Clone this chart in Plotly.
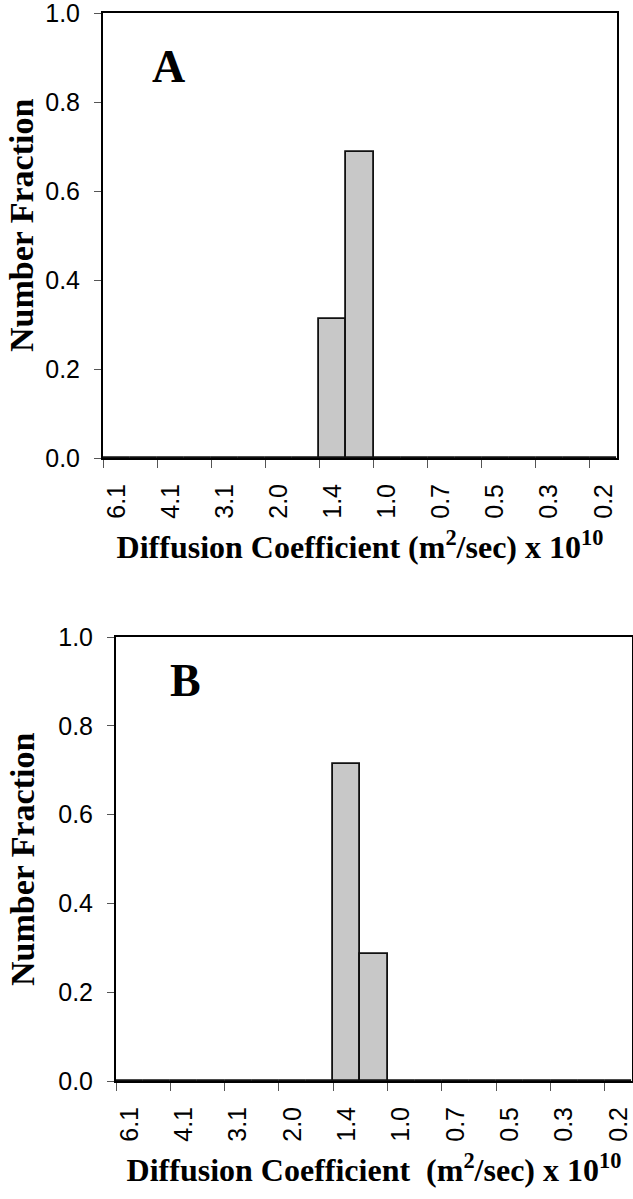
import plotly.graph_objects as go

# ------------------------------------------
# DATEN
# ------------------------------------------
# 19 Klassen, jede zweite beschriftet (Diffusionskoeffizient m^2/s x 1e10)
CLASS_LABELS = ["6.1", "", "4.1", "", "3.1", "", "2.0", "", "1.4", "",
                "1.0", "", "0.7", "", "0.5", "", "0.3", "", "0.2"]
FRACTION_A = [0, 0, 0, 0, 0, 0, 0, 0, 0.3125, 0.6875,
              0, 0, 0, 0, 0, 0, 0, 0, 0]
FRACTION_B = [0, 0, 0, 0, 0, 0, 0, 0, 0.714, 0.286,
              0, 0, 0, 0, 0, 0, 0, 0, 0]
Y_TICKS = [0.0, 0.2, 0.4, 0.6, 0.8, 1.0]

# Styling
W, H = 633, 1199
BAR_FILL = "#c8c8c8"
SANS = "Liberation Sans, Arial, sans-serif"
SERIF = "Liberation Serif, Times New Roman, serif"

# Plotbereiche in Pixeln (links, rechts, oben, unten), Buchstabe, y-Titel
PANELS = {
    "A": dict(x0=103, x1=617, y0=13, y1=458, data=FRACTION_A,
              lx=0.1265, ly=0.879, ty=226,
              xtitle="Diffusion Coefficient (m<sup>2</sup>/sec) x 10<sup>10</sup>"),
    "B": dict(x0=116, x1=632, y0=637, y1=1081, data=FRACTION_B,
              lx=0.134, ly=0.901, ty=860,
              xtitle="Diffusion Coefficient  (m<sup>2</sup>/sec) x 10<sup>10</sup>"),
}

fig = go.Figure()
n = len(CLASS_LABELS)
centers = list(range(n))
label_vals = [i for i in centers if CLASS_LABELS[i]]
label_text = [CLASS_LABELS[i] for i in label_vals]
bounds = [i - 0.5 for i in label_vals]

for k, (name, p) in enumerate(PANELS.items()):
    sfx = "" if k == 0 else str(k + 1)
    fig.add_trace(go.Bar(
        x=centers, y=p["data"], width=1.0,
        marker=dict(color=BAR_FILL, line=dict(color="#111111", width=1.8)),
        xaxis="x" + sfx, yaxis="y" + sfx, showlegend=False,
    ))
    xdom = [p["x0"] / W, p["x1"] / W]
    ydom = [1 - p["y1"] / H, 1 - p["y0"] / H]
    fig.layout["xaxis" + sfx] = dict(
        domain=xdom, anchor="y" + sfx, range=[-0.5, n - 0.5], automargin=False,
        tickmode="array", tickvals=label_vals, ticktext=label_text,
        ticks="", tickangle=-90, ticklabelstandoff=14, ticklabeloverflow="allow",
        tickfont=dict(family=SANS, size=25, color="black"),
        minor=dict(tickmode="array", tickvals=bounds, ticks="outside",
                   ticklen=8, tickcolor="#555555", tickwidth=1),
        showline=True, linecolor="black", linewidth=2, mirror=True,
        showgrid=False, zeroline=False,
        title=dict(text=p["xtitle"], standoff=18,
                   font=dict(family=SERIF, size=32, color="black", weight="bold")),
    )
    fig.layout["yaxis" + sfx] = dict(
        domain=ydom, anchor="x" + sfx, range=[0, 1.0], automargin=False,
        tickmode="array", tickvals=Y_TICKS,
        ticktext=[f"{v:.1f}" for v in Y_TICKS],
        ticks="outside", ticklen=7, tickcolor="#555555", tickwidth=1,
        ticklabelstandoff=9, ticklabeloverflow="allow",
        tickfont=dict(family=SANS, size=25, color="black"),
        showline=True, linecolor="black", linewidth=2, mirror=True,
        showgrid=False, zeroline=False,
    )
    # y-Achsentitel
    fig.add_annotation(
        text="<b>Number Fraction</b>", xref="paper", yref="paper",
        x=22 / W, y=1 - p["ty"] / H, xanchor="center", yanchor="middle",
        textangle=-90, showarrow=False,
        font=dict(family=SERIF, size=34, color="black"),
    )
    # Panelbuchstabe
    fig.add_annotation(
        text="<b>" + name + "</b>", xref="x" + sfx + " domain", yref="y" + sfx + " domain",
        x=p["lx"], y=p["ly"], xanchor="center", yanchor="middle", showarrow=False,
        font=dict(family=SERIF, size=46, color="black"),
    )

fig.update_layout(
    width=W, height=H,
    margin=dict(l=0, r=0, t=0, b=0),
    paper_bgcolor="white", plot_bgcolor="white",
    bargap=0,
)

# Seitenrand des Browsers entfernen, damit die Figur bei (0,0) beginnt
fig.write_html("out.html", config={"displayModeBar": False},
               post_script="document.body.style.margin='0px';")
